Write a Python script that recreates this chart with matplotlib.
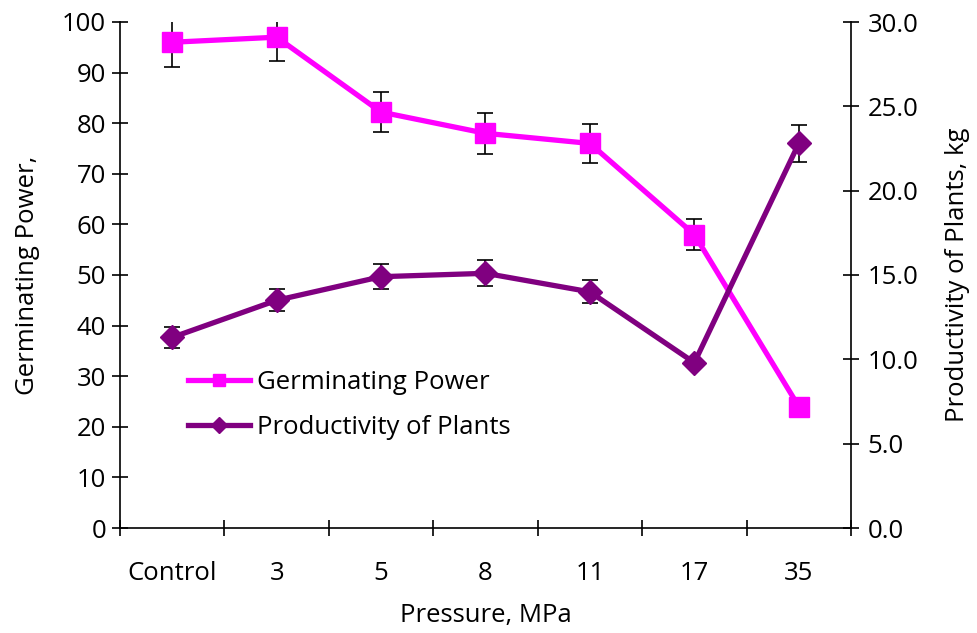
import matplotlib
matplotlib.use("Agg")
import matplotlib.pyplot as plt
from matplotlib.lines import Line2D
import numpy as np

categories = ["Control", "3", "5", "8", "11", "17", "35"]
germ_power = [96, 97, 82.2, 78, 76, 58, 24]
germ_err = [4.8, 4.8, 4.0, 4.0, 3.8, 3.0, 0.0]
productivity = [11.3, 13.5, 14.9, 15.1, 14.0, 9.8, 22.8]
prod_err = [0.6, 0.65, 0.75, 0.77, 0.68, 0.0, 1.1]

plt.rcParams['font.family'] = ['Open Sans', 'DejaVu Sans']
FS = 18.5
GP_COLOR = '#FF00FF'
PR_COLOR = '#800080'

fig = plt.figure(figsize=(9.77, 6.33), dpi=100)
ax = fig.add_axes([120/977, 1-528/633, (851-120)/977, (528-22)/633])
ax2 = ax.twinx()

x = np.arange(len(categories))
ax.errorbar(x, germ_power, yerr=germ_err, color=GP_COLOR, lw=3.8, marker='s',
            ms=14, ecolor='black', elinewidth=1.2, capsize=6, capthick=1.2,
            zorder=3)
ax2.errorbar(x, productivity, yerr=prod_err, color=PR_COLOR, lw=3.8, marker='D',
             ms=12, ecolor='black', elinewidth=1.2, capsize=6, capthick=1.2,
             zorder=3)

ax.set_xlim(-0.5, len(categories) - 0.5)
ax.set_ylim(0, 100)
ax2.set_ylim(0, 30)
ax.set_yticks(np.arange(0, 101, 10))
ax2.set_yticks(np.arange(0, 30.1, 5))
ax2.set_yticklabels([f"{v:.1f}" for v in np.arange(0, 30.1, 5)])

ax.set_xticks(np.arange(-0.5, len(categories), 1.0))
ax.set_xticklabels([])
ax.set_xticks(x, minor=True)
ax.set_xticklabels(categories, minor=True)
ax.tick_params(axis='x', which='major', direction='inout', length=12, width=1.2)
ax.tick_params(axis='x', which='minor', length=0, pad=24, labelsize=FS)
ax.tick_params(axis='y', direction='inout', length=12, width=1.2, labelsize=FS, pad=4)
ax2.tick_params(axis='y', direction='inout', length=12, width=1.2, labelsize=FS, pad=6)

for a in (ax, ax2):
    a.spines['top'].set_visible(False)
    for s in a.spines.values():
        s.set_linewidth(1.2)
ax.spines['right'].set_visible(False)
ax2.spines['left'].set_visible(False)
ax2.spines['bottom'].set_visible(False)

ax.set_xlabel("Pressure, MPa", fontsize=FS, labelpad=12)
ax.set_ylabel("Germinating Power,", fontsize=FS, labelpad=16)
ax2.set_ylabel("Productivity of Plants, kg", fontsize=FS, labelpad=19)

handles = [Line2D([], [], color=GP_COLOR, lw=3.8, marker='s', ms=9),
           Line2D([], [], color=PR_COLOR, lw=3.8, marker='D', ms=8)]
labels = ["Germinating Power", "Productivity of Plants"]
fig.legend(handles, labels, loc='center left', bbox_to_anchor=(188/977, 1-405/633),
           frameon=False, fontsize=FS, handlelength=2.4, handletextpad=0.3,
           labelspacing=0.8, borderpad=0, borderaxespad=0)

fig.savefig("out.png", dpi=100)
